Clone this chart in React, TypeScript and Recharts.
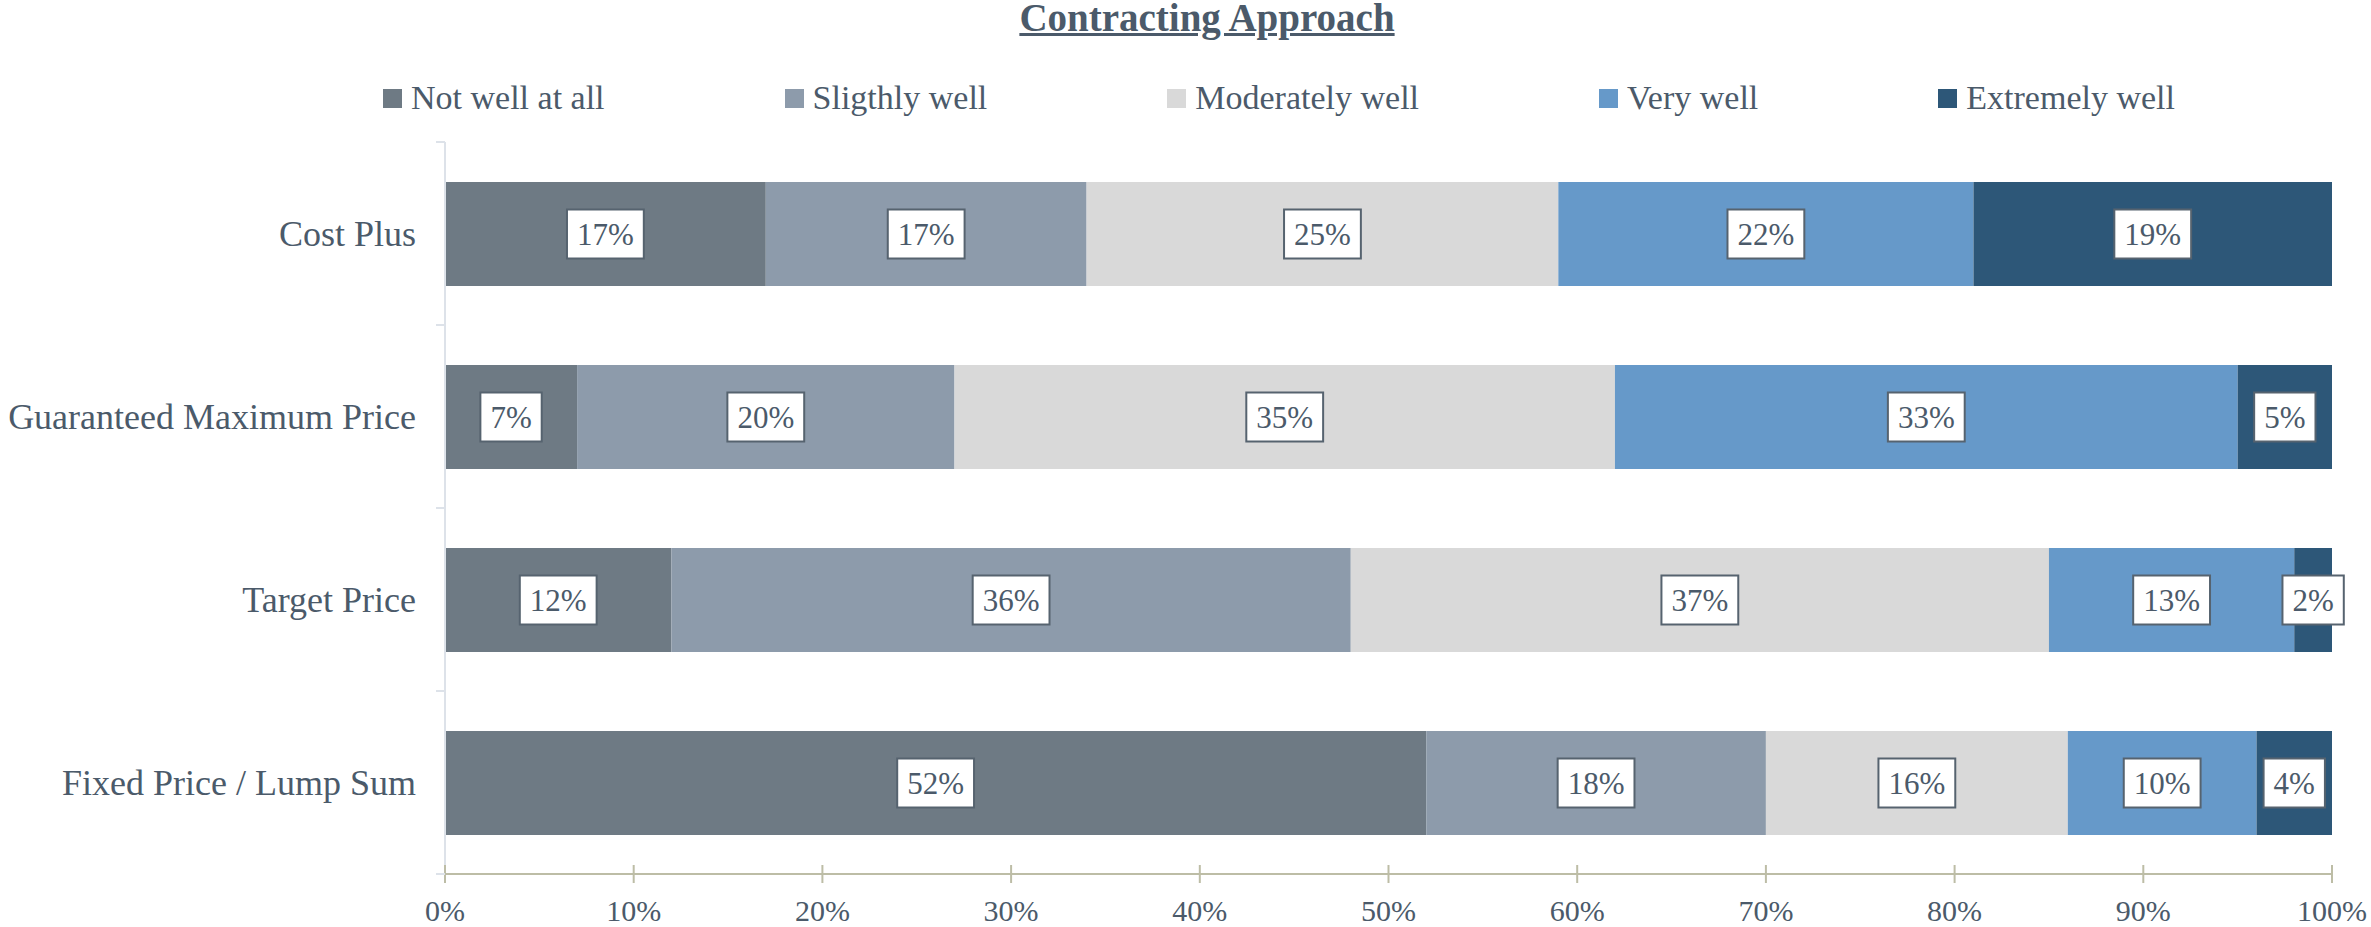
import React from 'react';
import { BarChart, Bar, XAxis, YAxis, LabelList } from 'recharts';

const title = 'Contracting Approach';
const categories = ['Cost Plus', 'Guaranteed Maximum Price', 'Target Price', 'Fixed Price / Lump Sum'];
const seriesNames = ['Not well at all', 'Sligthly well', 'Moderately well', 'Very well', 'Extremely well'];
const seriesKeys = ['notWell', 'slightly', 'moderately', 'very', 'extremely'];
const notWellAtAll = [17, 7, 12, 52];
const slightlyWell = [17, 20, 36, 18];
const moderatelyWell = [25, 35, 37, 16];
const veryWell = [22, 33, 13, 10];
const extremelyWell = [19, 5, 2, 4];
const xTicks = [0, 10, 20, 30, 40, 50, 60, 70, 80, 90, 100];
const seriesColors = ['#6e7a84', '#8d9bab', '#d9d9d9', '#6699c9', '#2d5778'];

const seriesValues = [notWellAtAll, slightlyWell, moderatelyWell, veryWell, extremelyWell];
const data = categories.map((name, i) => {
  const row: any = { name };
  seriesKeys.forEach((k, j) => {
    row[k] = seriesValues[j][i];
  });
  return row;
});

const FONT = '"Liberation Serif", "Times New Roman", serif';
const TEXT = '#4b5a6a';

const renderLabel = (props: any) => {
  const { x, y, width, height, value } = props;
  const s = `${value}%`;
  const fs = 31;
  let tw = 0;
  for (const ch of s) tw += ch === '%' ? fs * 0.833 : fs * 0.5;
  const bw = tw + 20;
  const bh = 49;
  const cx = Number(x) + Number(width) / 2;
  const cy = Number(y) + Number(height) / 2;
  return (
    <g>
      <rect x={cx - bw / 2} y={cy - bh / 2} width={bw} height={bh} fill="#ffffff" stroke="#56636f" strokeWidth={2} />
      <text x={cx} y={cy} textAnchor="middle" dominantBaseline="central" fontFamily={FONT} fontSize={fs} fill={TEXT}>
        {s}
      </text>
    </g>
  );
};

const YTick = (props: any) => {
  const { x, y, payload, index } = props;
  const half = payload && typeof payload.offset === 'number' && payload.offset > 0 ? payload.offset : 91.5;
  const lx1 = x + 20;
  const lx2 = x + 29;
  return (
    <g>
      <line x1={lx1} x2={lx2} y1={y - half} y2={y - half} stroke="#dde2e9" strokeWidth={2} />
      {index === categories.length - 1 ? (
        <line x1={lx1} x2={lx2} y1={y + half} y2={y + half} stroke="#dde2e9" strokeWidth={2} />
      ) : null}
      <text x={x} y={y} textAnchor="end" dominantBaseline="central" fontFamily={FONT} fontSize={36} fill={TEXT}>
        {payload.value}
      </text>
    </g>
  );
};

const XTick = (props: any) => {
  const { x, y, payload } = props;
  return (
    <g>
      <line x1={x} x2={x} y1={y - 18} y2={y} stroke="#bdbda6" strokeWidth={2} />
      <text x={x} y={y + 38} textAnchor="middle" fontFamily={FONT} fontSize={30} fill={TEXT}>
        {`${payload.value}%`}
      </text>
    </g>
  );
};

export default function App() {
  return (
    <div style={{ position: 'absolute', left: 0, top: 0, width: 2371, height: 927, background: '#ffffff', fontFamily: FONT }}>
      <div
        style={{
          position: 'absolute',
          left: 1207 - 600,
          width: 1200,
          top: 0,
          textAlign: 'center',
          fontSize: 39,
          fontWeight: 'bold',
          textDecoration: 'underline',
          color: TEXT,
          lineHeight: '36px',
        }}
      >
        {title}
      </div>
      <div
        style={{
          position: 'absolute',
          left: 383,
          top: 78,
          height: 40,
          display: 'flex',
          alignItems: 'center',
          gap: 180,
          whiteSpace: 'nowrap',
        }}
      >
        {seriesNames.map((n, i) => (
          <div key={n} style={{ display: 'flex', alignItems: 'center' }}>
            <div style={{ width: 19, height: 19, background: seriesColors[i], marginRight: 9 }} />
            <span style={{ fontSize: 34, color: TEXT, lineHeight: '40px' }}>{n}</span>
          </div>
        ))}
      </div>
      <div style={{ position: 'absolute', left: 0, top: 0 }}>
        <BarChart
          width={2371}
          height={927}
          data={data}
          layout="vertical"
          margin={{ top: 142, right: 39, bottom: 0, left: 0 }}
          barSize={104}
        >
          <XAxis
            type="number"
            domain={[0, 100]}
            ticks={xTicks}
            interval={0}
            height={53}
            axisLine={{ stroke: '#bdbda6', strokeWidth: 2 }}
            tickLine={false}
            tickSize={9}
            tickMargin={0}
            tick={<XTick />}
          />
          <YAxis
            type="category"
            dataKey="name"
            width={445}
            axisLine={{ stroke: '#dde2e9', strokeWidth: 2 }}
            tickLine={false}
            tickSize={9}
            tickMargin={20}
            interval={0}
            tick={<YTick />}
          />
          {seriesKeys.map((k, i) => (
            <Bar key={k} dataKey={k} name={seriesNames[i]} stackId="a" fill={seriesColors[i]} isAnimationActive={false}>
              <LabelList dataKey={k} content={renderLabel} />
            </Bar>
          ))}
        </BarChart>
      </div>
    </div>
  );
}
